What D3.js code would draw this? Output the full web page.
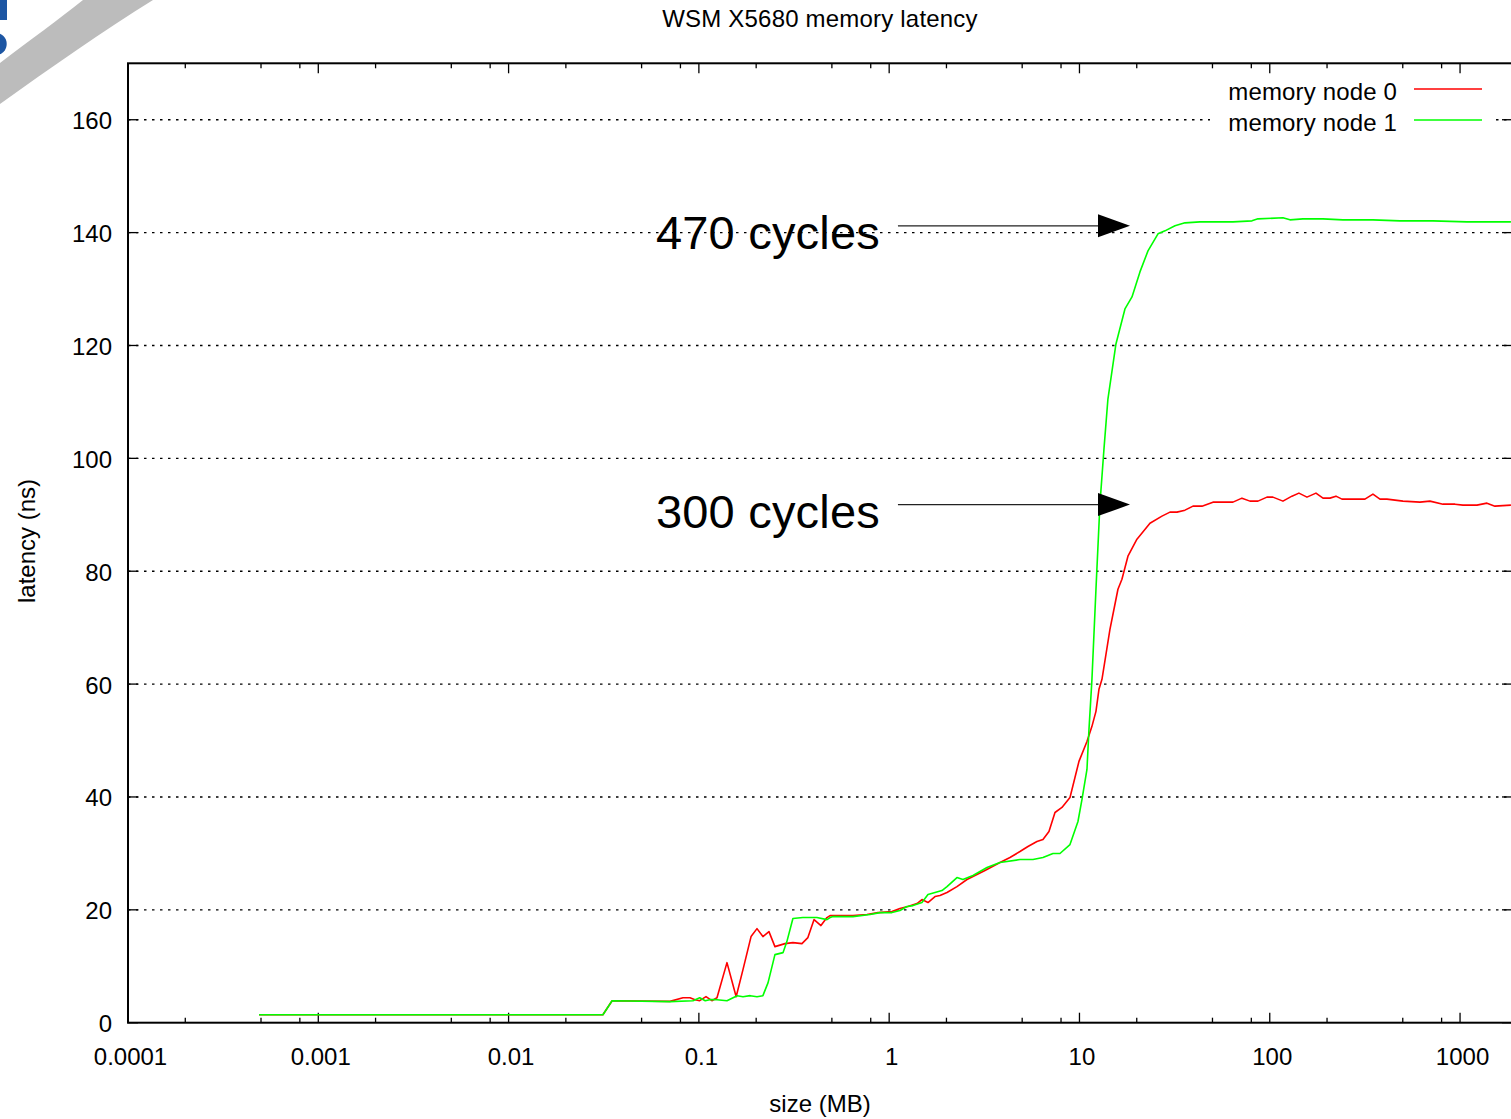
<!DOCTYPE html>
<html>
<head>
<meta charset="utf-8">
<script src="https://cdn.jsdelivr.net/npm/d3@7"></script>
<style>
  html, body { margin: 0; padding: 0; background: #fff; overflow: hidden; }
  svg { display: block; font-family: "Liberation Sans", Arial, sans-serif; }
</style>
</head>
<body>
<svg id="chart" width="1511" height="1119"></svg>
<script>
// Memory latency (ns) versus working-set size (MB), one series per NUMA node.
const node0Size = [0.000488, 0.0313, 0.035, 0.0705, 0.0825, 0.0898, 0.0954, 0.101, 0.109, 0.117, 0.1245, 0.1405, 0.157, 0.1705, 0.188, 0.202, 0.217, 0.2335, 0.251, 0.2835, 0.312, 0.348, 0.374, 0.403, 0.438, 0.471, 0.489, 0.551, 0.645, 0.764, 0.873, 1.034, 1.139, 1.255, 1.400, 1.487, 1.599, 1.741, 1.849, 2.013, 2.271, 2.564, 3.187, 3.822, 4.313, 4.868, 5.362, 5.979, 6.43, 6.914, 7.436, 8.091, 8.916, 9.47, 9.94, 10.95, 11.63, 12.21, 12.66, 13.13, 13.78, 14.46, 15.18, 15.93, 16.72, 17.98, 20.05, 23.47, 27.14, 29.90, 32.53, 35.84, 39.49, 44.03, 50.29, 56.77, 64.07, 71.43, 78.70, 86.70, 96.67, 103.9, 117.3, 130.8, 142.3, 156.9, 174.9, 190.4, 207.3, 222.8, 239.5, 273.6, 316.4, 348.5, 379.4, 413.0, 501.1, 615.6, 694.8, 813.0, 940.2, 1035, 1227, 1385, 1525, 1851];
const node0Latency = [1.42, 1.42, 3.90, 3.78, 4.43, 4.43, 4.08, 3.90, 4.61, 3.90, 4.43, 10.64, 4.61, 9.40, 15.26, 16.67, 15.26, 16.14, 13.48, 14.01, 14.19, 14.01, 15.08, 18.27, 17.21, 18.63, 18.98, 18.98, 18.98, 19.16, 19.51, 19.69, 20.22, 20.58, 21.11, 21.82, 21.29, 22.35, 22.53, 23.06, 24.12, 25.37, 26.96, 28.38, 29.27, 30.33, 31.22, 32.11, 32.46, 33.88, 37.25, 38.14, 39.91, 43.46, 46.30, 49.84, 52.51, 55.17, 59.07, 60.84, 65.28, 69.71, 73.26, 76.81, 78.58, 82.66, 85.68, 88.51, 89.76, 90.47, 90.47, 90.82, 91.53, 91.53, 92.24, 92.24, 92.24, 92.95, 92.42, 92.42, 93.13, 93.13, 92.42, 93.30, 93.84, 93.13, 93.84, 92.95, 92.95, 93.30, 92.77, 92.77, 92.77, 93.66, 92.77, 92.77, 92.42, 92.24, 92.42, 91.88, 91.88, 91.71, 91.71, 92.06, 91.53, 91.71];

const node1Size = [0.000488, 0.0313, 0.035, 0.0705, 0.0931, 0.101, 0.108, 0.114, 0.1245, 0.1405, 0.159, 0.1705, 0.186, 0.202, 0.217, 0.231, 0.251, 0.277, 0.290, 0.312, 0.352, 0.417, 0.471, 0.489, 0.507, 0.645, 0.793, 0.895, 1.034, 1.139, 1.240, 1.334, 1.487, 1.599, 1.741, 1.894, 2.013, 2.271, 2.442, 2.757, 3.266, 3.822, 4.868, 5.698, 6.43, 7.258, 7.897, 8.916, 9.82, 10.31, 10.95, 11.22, 11.63, 12.21, 12.81, 13.45, 14.11, 15.55, 17.34, 18.88, 20.79, 22.91, 25.86, 28.14, 31.77, 35.84, 42.97, 52.79, 64.07, 80.63, 86.70, 117.3, 127.7, 149.4, 190.4, 242.5, 348.5, 483.3, 720.4, 1087, 1851];
const node1Latency = [1.42, 1.42, 3.90, 3.73, 3.90, 4.43, 3.90, 4.08, 4.08, 3.90, 4.79, 4.61, 4.79, 4.61, 4.79, 7.10, 12.06, 12.42, 14.37, 18.45, 18.63, 18.63, 18.27, 18.63, 18.80, 18.80, 19.16, 19.51, 19.51, 19.87, 20.58, 20.75, 21.29, 22.71, 23.06, 23.41, 24.12, 25.72, 25.37, 26.08, 27.49, 28.38, 28.91, 28.91, 29.27, 29.98, 29.98, 31.57, 35.65, 39.56, 44.88, 51.97, 60.84, 76.81, 91.88, 101.64, 110.51, 120.27, 126.47, 128.60, 133.04, 136.76, 139.78, 140.31, 141.20, 141.73, 141.91, 141.91, 141.91, 142.08, 142.44, 142.62, 142.26, 142.44, 142.44, 142.26, 142.26, 142.08, 142.08, 141.91, 141.91];

const seriesNames = ["memory node 0", "memory node 1"];
const seriesColors = ["#ff0000", "#00ff00"];

const xMajorTicks = [0.0001, 0.001, 0.01, 0.1, 1, 10, 100, 1000];
const xTickLabels = ["0.0001", "0.001", "0.01", "0.1", "1", "10", "100", "1000"];
const xMinorMultipliers = [2, 5, 8];
const yTicks = [0, 20, 40, 60, 80, 100, 120, 140, 160];

// Cycle annotations: label, arrow start/end size (MB), latency (ns)
const annotationLabels = ["470 cycles", "300 cycles"];
const annotationFrom = [1.112, 1.112];
const annotationTo = [18.43, 18.43];
const annotationLatency = [141.2, 91.8];
const annotationLabelSize = [0.895, 0.895];

const titleText = "WSM X5680 memory latency";
const xLabelText = "size (MB)";
const yLabelText = "latency (ns)";

// ---------------------------------------------------------------
const svg = d3.select("#chart");
const plot = { left: 128, right: 1512, top: 63.3, bottom: 1022.7 };

const x = d3.scaleLog().domain([0.0001, 1875]).range([plot.left, plot.right]);
const y = d3.scaleLinear().domain([0, 170]).range([plot.bottom, plot.top]);

const FONT = 24;

// partial logo in the corner
const logo = svg.append("g");
logo.append("path")
  .attr("d", "M83,0 L153,0 C105,30 50,68 0,104 L0,63 C30,40 58,20 83,0 Z")
  .attr("fill", "#bcbcbc");
logo.append("rect").attr("x", 0).attr("y", 0).attr("width", 7).attr("height", 20).attr("fill", "#1d56a3");
logo.append("circle").attr("cx", -4.5).attr("cy", 44).attr("r", 11.2).attr("fill", "#1d56a3");

// title
svg.append("text")
  .attr("x", 820).attr("y", 27)
  .attr("text-anchor", "middle")
  .attr("font-size", FONT)
  .style("letter-spacing", "0.2px")
  .text(titleText);

// horizontal dotted grid
svg.append("g").selectAll("line")
  .data(yTicks.filter(v => v > 0))
  .join("line")
  .attr("x1", plot.left).attr("x2", plot.right)
  .attr("y1", d => y(d)).attr("y2", d => y(d))
  .attr("stroke", "#000")
  .attr("stroke-width", 1.4)
  .attr("stroke-dasharray", "2.5,5.5");

// ticks (inward, mirrored on all four sides)
const tickG = svg.append("g").attr("stroke", "#000").attr("stroke-width", 1.3);
const minorX = [];
xMajorTicks.forEach(t => xMinorMultipliers.forEach(m => { const v = t * m; if (v < x.domain()[1]) minorX.push(v); }));
xMajorTicks.forEach(t => {
  tickG.append("line").attr("x1", x(t)).attr("x2", x(t)).attr("y1", plot.bottom).attr("y2", plot.bottom - 10);
  tickG.append("line").attr("x1", x(t)).attr("x2", x(t)).attr("y1", plot.top).attr("y2", plot.top + 10);
});
minorX.forEach(t => {
  tickG.append("line").attr("x1", x(t)).attr("x2", x(t)).attr("y1", plot.bottom).attr("y2", plot.bottom - 5);
  tickG.append("line").attr("x1", x(t)).attr("x2", x(t)).attr("y1", plot.top).attr("y2", plot.top + 5);
});
yTicks.forEach(t => {
  tickG.append("line").attr("x1", plot.left).attr("x2", plot.left + 10).attr("y1", y(t)).attr("y2", y(t));
  tickG.append("line").attr("x1", plot.right).attr("x2", plot.right - 10).attr("y1", y(t)).attr("y2", y(t));
});

// tick labels
svg.append("g").selectAll("text")
  .data(xMajorTicks)
  .join("text")
  .attr("x", d => x(d) + 2.5).attr("y", 1065)
  .attr("text-anchor", "middle")
  .attr("font-size", FONT)
  .text((d, i) => xTickLabels[i]);

svg.append("g").selectAll("text")
  .data(yTicks)
  .join("text")
  .attr("x", 112).attr("y", d => y(d) + 9.5)
  .attr("text-anchor", "end")
  .attr("font-size", FONT)
  .text(d => d);

// axis titles
svg.append("text")
  .attr("x", 820).attr("y", 1112)
  .attr("text-anchor", "middle")
  .attr("font-size", FONT)
  .text(xLabelText);
svg.append("text")
  .attr("transform", "translate(35,541) rotate(-90)")
  .attr("text-anchor", "middle")
  .attr("font-size", FONT)
  .text(yLabelText);

// legend (opaque box over the grid)
svg.append("rect")
  .attr("x", 1210).attr("y", 74).attr("width", 286).attr("height", 62)
  .attr("fill", "#fff");
seriesNames.forEach((name, i) => {
  const ly = 89 + i * 31;
  svg.append("text")
    .attr("x", 1397).attr("y", ly + 11)
    .attr("text-anchor", "end")
    .attr("font-size", FONT)
    .style("letter-spacing", "0.15px")
    .text(name);
  svg.append("line")
    .attr("x1", 1414).attr("x2", 1482)
    .attr("y1", ly).attr("y2", ly)
    .attr("stroke", seriesColors[i]).attr("stroke-width", 1.6);
});

// data lines
svg.append("defs").append("clipPath").attr("id", "plotClip")
  .append("rect")
  .attr("x", plot.left).attr("y", plot.top)
  .attr("width", plot.right - plot.left).attr("height", plot.bottom - plot.top);

const line = d3.line().x(d => x(d[0])).y(d => y(d[1]));
const series = [
  d3.zip(node0Size, node0Latency),
  d3.zip(node1Size, node1Latency)
];
const lineG = svg.append("g").attr("clip-path", "url(#plotClip)");
series.forEach((pts, i) => {
  lineG.append("path")
    .datum(pts)
    .attr("d", line)
    .attr("fill", "none")
    .attr("stroke", seriesColors[i])
    .attr("stroke-width", 1.6)
    .attr("stroke-linejoin", "round");
});

// annotations with arrows
annotationLabels.forEach((label, i) => {
  const yy = y(annotationLatency[i]);
  const x0 = x(annotationFrom[i]);
  const x1 = x(annotationTo[i]);
  const headLen = 32, headHalf = 11.5;
  svg.append("line")
    .attr("x1", x0).attr("x2", x1 - headLen + 1)
    .attr("y1", yy).attr("y2", yy)
    .attr("stroke", "#222").attr("stroke-width", 1.1);
  svg.append("path")
    .attr("d", `M${x1},${yy} L${x1 - headLen},${yy - headHalf} L${x1 - headLen},${yy + headHalf} Z`)
    .attr("fill", "#000");
  svg.append("text")
    .attr("x", x(annotationLabelSize[i])).attr("y", yy + 23)
    .attr("text-anchor", "end")
    .attr("font-size", 47)
    .style("letter-spacing", "0.2px")
    .text(label);
});

// frame
svg.append("rect")
  .attr("x", plot.left).attr("y", plot.top)
  .attr("width", plot.right - plot.left).attr("height", plot.bottom - plot.top)
  .attr("fill", "none").attr("stroke", "#000").attr("stroke-width", 2);
</script>
</body>
</html>
